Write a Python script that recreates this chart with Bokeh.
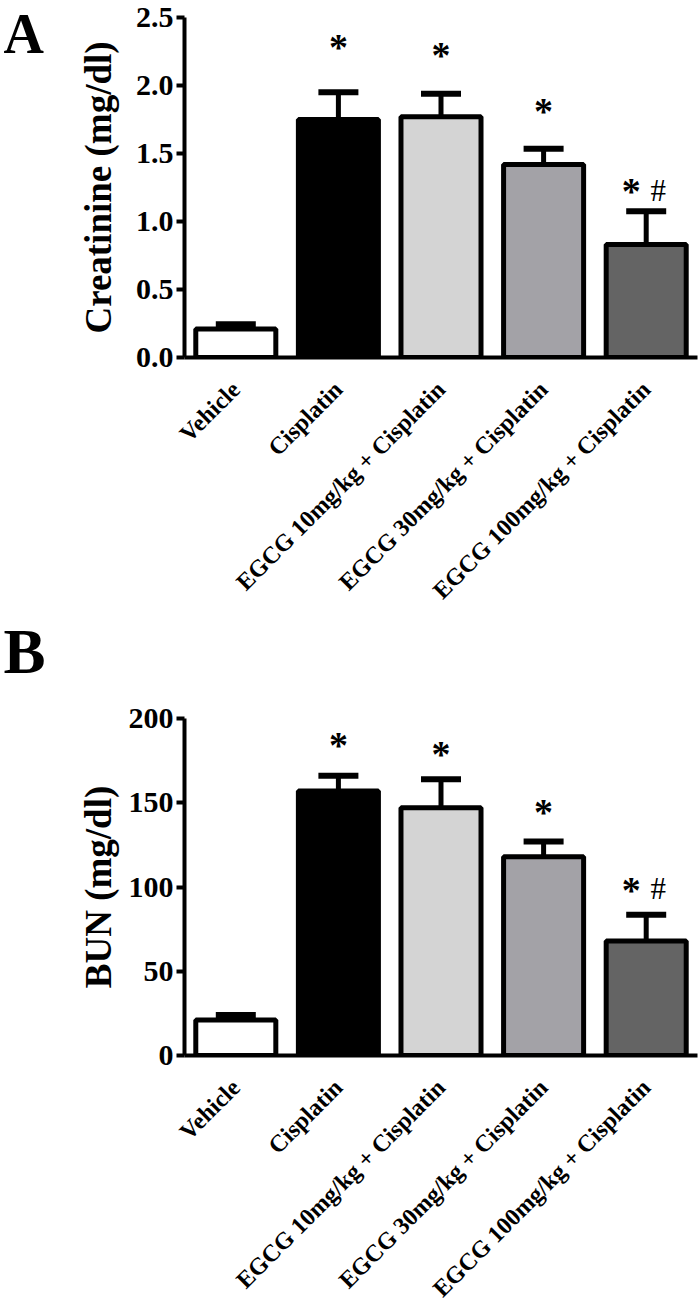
import math
from bokeh.plotting import figure
from bokeh.layouts import column, row
from bokeh.models import (ColumnDataSource, Whisker, FixedTicker, NumeralTickFormatter,
                          Range1d, FactorRange, TeeHead)
from bokeh.core.properties import value
from bokeh.embed import file_html
from bokeh.resources import INLINE

# ---------------- data ----------------
groups = ["Vehicle", "Cisplatin", "EGCG 10mg/kg + Cisplatin",
          "EGCG 30mg/kg + Cisplatin", "EGCG 100mg/kg + Cisplatin"]
bar_colors = ["#ffffff", "#000000", "#d4d4d4", "#a3a2a7", "#646464"]

creat_mean = [0.21, 1.75, 1.77, 1.42, 0.83]
creat_sem = [0.035, 0.20, 0.17, 0.115, 0.245]
creat_ticks = [0.0, 0.5, 1.0, 1.5, 2.0, 2.5]

bun_mean = [21, 157, 147, 118, 68]
bun_sem = [3, 9, 17, 9, 15.5]
bun_ticks = [0, 50, 100, 150, 200]

sig_star = ["", "*", "*", "*", "*"]
sig_hash = ["", "", "", "", "#"]

FONT = value("Liberation Serif")
LETTER_W = 60
MAIN_W = 700 - LETTER_W


def letter_fig(letter, height, base_y, size):
    f = figure(width=LETTER_W, height=height, x_range=Range1d(0, LETTER_W),
               y_range=Range1d(height, 0), x_axis_type=None, y_axis_type=None,
               output_backend="svg", toolbar_location=None,
               min_border=0, min_border_left=0, min_border_right=0,
               min_border_top=0, min_border_bottom=0, frame_align=False)
    f.outline_line_color = None
    f.grid.visible = False
    f.text(x=[3], y=[base_y], text=[letter], text_font=FONT,
           text_font_style="bold", text_font_size=size,
           text_align="left", text_baseline="alphabetic", text_color="black")
    return f


def make_panel(mean, sem, ticks, ymax, ylabel, fmt, height,
               border_top, border_bottom, star_gap, ylabel_standoff):
    p = figure(width=MAIN_W, height=height,
               x_range=FactorRange(factors=groups),
               y_range=Range1d(0, ymax),
               output_backend="svg", toolbar_location=None,
               min_border_left=184 - LETTER_W, min_border_right=3,
               min_border_top=border_top, min_border_bottom=border_bottom,
               frame_align=False)
    p.outline_line_color = None
    p.xgrid.visible = False
    p.ygrid.visible = False
    p.background_fill_color = "white"
    p.border_fill_color = "white"

    src = ColumnDataSource(dict(x=groups, top=mean, color=bar_colors,
                                lower=mean,
                                upper=[m + s for m, s in zip(mean, sem)]))
    p.vbar(x="x", top="top", width=0.78, bottom=0, source=src,
           fill_color="color", line_color="black", line_width=5)

    w = Whisker(base="x", lower="lower", upper="upper", source=src,
                dimension="height", line_color="black", line_width=5,
                upper_head=TeeHead(size=40, line_width=6, line_color="black"),
                lower_head=None)
    p.add_layout(w)

    # significance markers, floated a fixed pixel gap above each error bar
    sx, sy, st, sxo, syo = [], [], [], [], []
    hx, hy, ht, hxo, hyo = [], [], [], [], []
    for i, g in enumerate(groups):
        top = mean[i] + sem[i]
        if sig_star[i]:
            sx.append(g); sy.append(top); st.append(sig_star[i])
            sxo.append(-15 if sig_hash[i] else 0)
            syo.append(-star_gap[i] + 5)
        if sig_hash[i]:
            hx.append(g); hy.append(top); ht.append(sig_hash[i])
            hxo.append(12); hyo.append(-star_gap[i] + 4)
    p.text(x="x", y="y", text="t", x_offset="xo", y_offset="yo",
           source=ColumnDataSource(dict(x=sx, y=sy, t=st, xo=sxo, yo=syo)),
           text_font=FONT, text_font_style="bold", text_font_size="38px",
           text_align="center", text_baseline="alphabetic", text_color="black")
    p.text(x="x", y="y", text="t", x_offset="xo", y_offset="yo",
           source=ColumnDataSource(dict(x=hx, y=hy, t=ht, xo=hxo, yo=hyo)),
           text_font=FONT, text_font_style="normal", text_font_size="31px",
           text_align="center", text_baseline="alphabetic", text_color="black")

    # axes
    ya = p.yaxis[0]
    ya.ticker = FixedTicker(ticks=ticks)
    ya.formatter = NumeralTickFormatter(format=fmt)
    ya.axis_label = ylabel
    ya.axis_label_text_font = "Liberation Serif"
    ya.axis_label_text_font_style = "bold"
    ya.axis_label_text_font_size = "37px"
    ya.axis_label_text_color = "black"
    ya.axis_label_standoff = ylabel_standoff
    ya.major_label_text_font = "Liberation Serif"
    ya.major_label_text_font_style = "bold"
    ya.major_label_text_font_size = "30px"
    ya.major_label_text_color = "black"
    ya.major_label_standoff = 3
    ya.axis_line_width = 4
    ya.axis_line_color = "black"
    ya.major_tick_line_width = 4
    ya.major_tick_line_color = "black"
    ya.major_tick_out = 8
    ya.major_tick_in = 0
    ya.minor_tick_line_color = None

    xa = p.xaxis[0]
    xa.major_label_orientation = math.pi / 4
    xa.major_label_text_font = "Liberation Serif"
    xa.major_label_text_font_style = "bold"
    xa.major_label_text_font_size = "24px"
    xa.major_label_text_color = "black"
    xa.major_label_standoff = 28
    xa.major_tick_line_color = None
    xa.major_tick_out = 0
    xa.major_tick_in = 0
    xa.minor_tick_line_color = None
    xa.axis_line_width = 4
    xa.axis_line_color = "black"
    return p


HA, HB = 615, 698
pA = make_panel(creat_mean, creat_sem, creat_ticks, 2.5,
                "Creatinine (mg/dl)", "0.0", HA, 17, 257,
                [0, 50, 44, 42.5, 25], 14)
pB = make_panel(bun_mean, bun_sem, bun_ticks, 200,
                "BUN (mg/dl)", "0", HB, 103, 257,
                [0, 36, 30, 35, 30], 7)
lA = letter_fig("A", HA, 33, "56px")
lB = letter_fig("B", HB, 36, "63px")

layout = column(row(lA, pA, spacing=0), row(lB, pB, spacing=0), spacing=0)
open("out.html", "w").write(file_html(layout, INLINE))
